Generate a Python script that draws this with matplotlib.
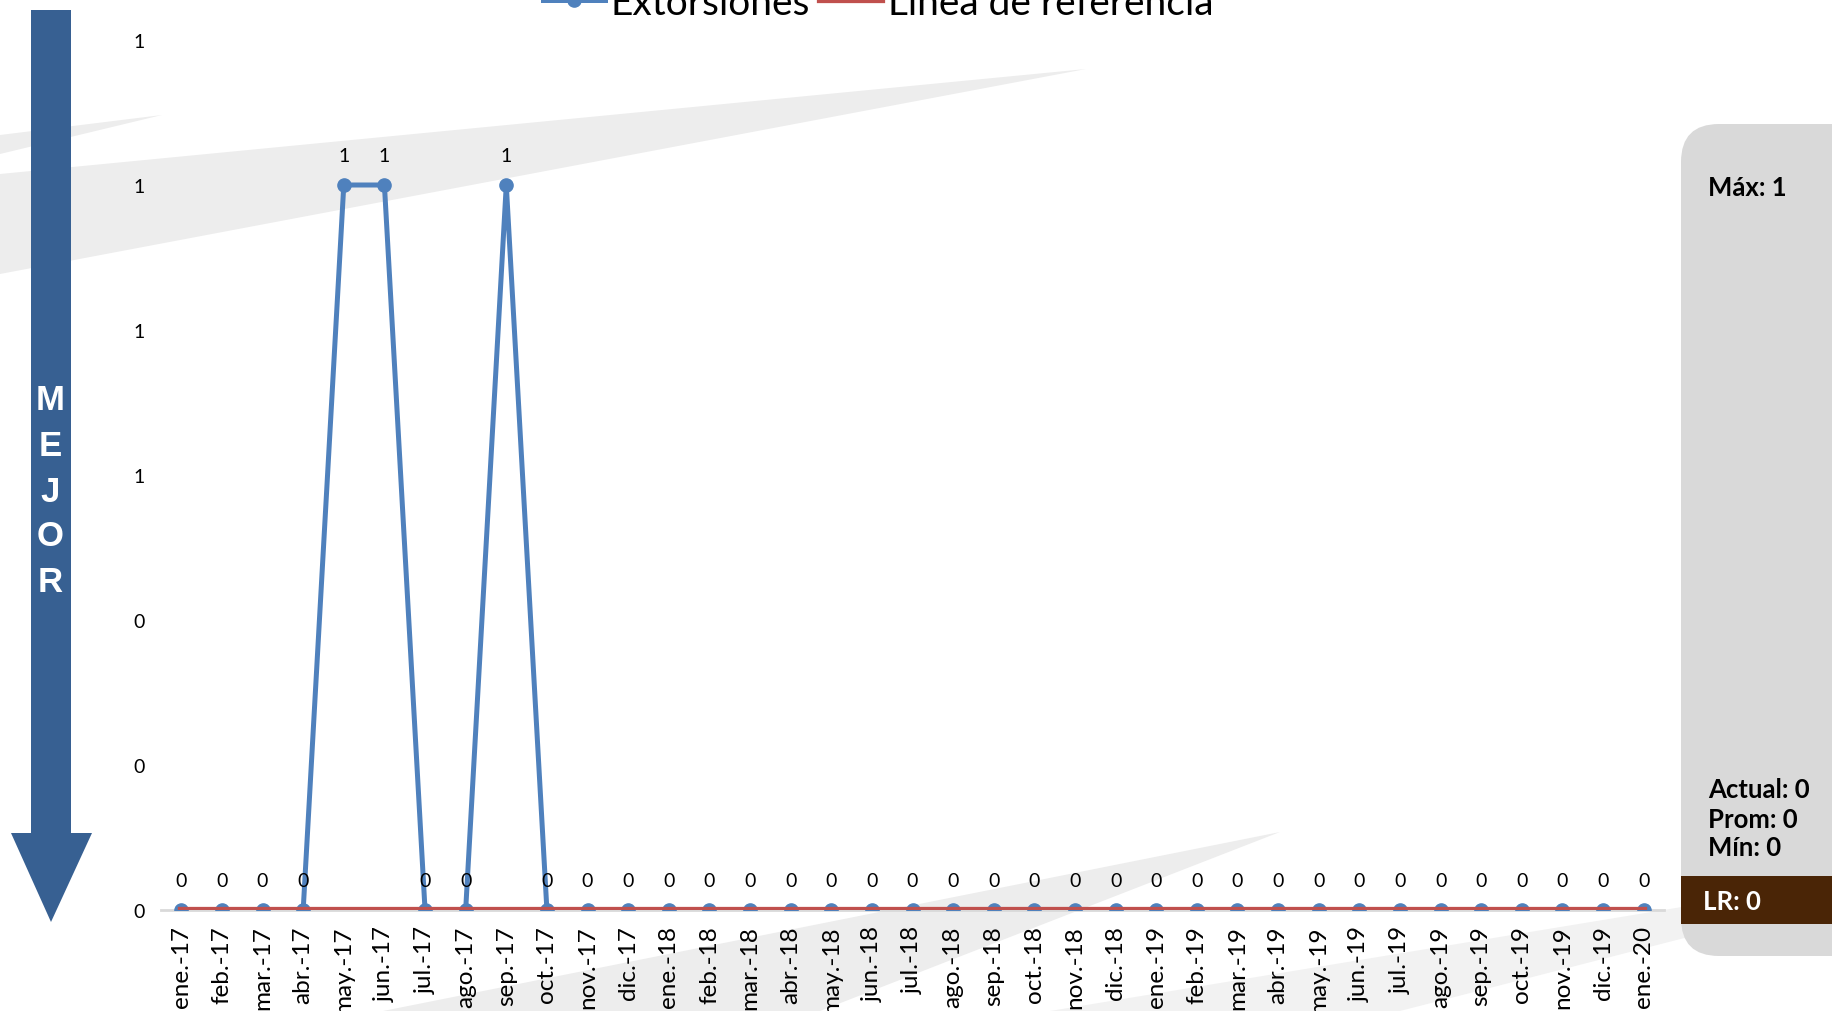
import matplotlib
matplotlib.use("Agg")
import matplotlib.pyplot as plt
from matplotlib.patches import Polygon, FancyBboxPatch, Rectangle
from matplotlib.ticker import FuncFormatter

meses = ['ene.-17', 'feb.-17', 'mar.-17', 'abr.-17', 'may.-17', 'jun.-17',
         'jul.-17', 'ago.-17', 'sep.-17', 'oct.-17', 'nov.-17', 'dic.-17',
         'ene.-18', 'feb.-18', 'mar.-18', 'abr.-18', 'may.-18', 'jun.-18',
         'jul.-18', 'ago.-18', 'sep.-18', 'oct.-18', 'nov.-18', 'dic.-18',
         'ene.-19', 'feb.-19', 'mar.-19', 'abr.-19', 'may.-19', 'jun.-19',
         'jul.-19', 'ago.-19', 'sep.-19', 'oct.-19', 'nov.-19', 'dic.-19',
         'ene.-20']
extorsiones = [0, 0, 0, 0, 1, 1, 0, 0, 1, 0, 0, 0,
               0, 0, 0, 0, 0, 0, 0, 0, 0, 0, 0, 0,
               0, 0, 0, 0, 0, 0, 0, 0, 0, 0, 0, 0,
               0]
linea_ref = [0] * len(meses)
resumen = ['Máx: 1', 'Actual: 0', 'Prom: 0', 'Mín: 0']
lr_texto = 'LR: 0'

W, H = 1833, 1012
fig = plt.figure(figsize=(W / 100, H / 100), dpi=100)

# fondo decorativo en pixeles
bg = fig.add_axes([0, 0, 1, 1])
bg.set_xlim(0, W)
bg.set_ylim(H, 0)
bg.axis('off')
gris = '#EDEDED'
bg.add_patch(Polygon([(0, 136), (0, 155), (162, 116)], color=gris, lw=0))
bg.add_patch(Polygon([(0, 175), (0, 275), (1086, 70)], color=gris, lw=0))
bg.add_patch(Polygon([(383, 1012), (1280, 833), (820, 1012)], color=gris, lw=0))
bg.add_patch(Polygon([(1050, 1012), (1700, 905), (1700, 935), (1400, 1012)],
                     color='#F2F2F2', lw=0))

# flecha MEJOR
azul_flecha = '#376092'
bg.add_patch(Rectangle((31, 11), 40, 825, color=azul_flecha, lw=0))
bg.add_patch(Polygon([(11, 834), (92, 834), (51, 923)], color=azul_flecha, lw=0))
for letra, yy in zip('MEJOR', [401, 446, 492, 537, 582]):
    bg.text(50, yy, letra, color='white', fontsize=25, fontweight='bold',
            family='Liberation Sans', ha='center', va='center')

# panel derecho
bg.add_patch(FancyBboxPatch((1681, 125), 200, 832,
                            boxstyle='round,pad=0,rounding_size=38',
                            color='#D9D9D9', lw=0))
bg.add_patch(Rectangle((1681, 877), 160, 48, color='#4A2506', lw=0))
fpanel = dict(fontsize=18.5, fontweight='bold', family='Lato', color='black',
              ha='left', va='center')
bg.text(1708, 188, resumen[0], **fpanel)
for txt, yy in zip(resumen[1:], [790, 820, 848]):
    bg.text(1708, yy, txt, **fpanel)
bg.text(1703, 902, lr_texto, fontsize=18.5, fontweight='bold', family='Lato',
        color='white', ha='left', va='center')

# grafica
ax = fig.add_axes([161 / W, 1 - 911 / H, (1664 - 161) / W, (911 - 41) / H])
ax.patch.set_alpha(0)
x = list(range(len(meses)))
l1, = ax.plot(x, extorsiones, color='#4F81BD', lw=3.6, marker='o', ms=9.5,
              label='Extorsiones', zorder=3)
l2, = ax.plot(x, linea_ref, color='#C0504D', lw=4.5, label='Línea de referencia',
              zorder=4)
for xi, v in zip(x, extorsiones):
    ax.annotate(str(v), (xi, v), xytext=(0, 21), textcoords='offset points',
                ha='center', va='center', fontsize=14, family='Lato')

ax.set_xlim(-0.5, len(meses) - 0.5)
ax.set_ylim(0, 1.2)
ax.set_yticks([0, 0.2, 0.4, 0.6, 0.8, 1.0, 1.2])
ax.yaxis.set_major_formatter(FuncFormatter(lambda v, p: '{:.0f}'.format(v)))
ax.set_xticks(x)
ax.set_xticklabels(meses, rotation=90, fontsize=17.5, family='Lato')
for t in ax.get_yticklabels():
    t.set_fontsize(14)
    t.set_family('Lato')
ax.tick_params(axis='both', length=0)
ax.tick_params(axis='y', pad=12)
ax.tick_params(axis='x', pad=11)
for s in ['top', 'right', 'left']:
    ax.spines[s].set_visible(False)
ax.spines['bottom'].set_color('#D9D9D9')
ax.spines['bottom'].set_linewidth(2)

fig.legend(handles=[l1, l2], loc='center', bbox_to_anchor=(878 / W, 1 - 4 / H),
           ncol=2, frameon=False, handlelength=1.6,
           handletextpad=0.15, columnspacing=0.25, prop={'family': 'Lato', 'size': 28})

fig.savefig('out.png', dpi=100)
